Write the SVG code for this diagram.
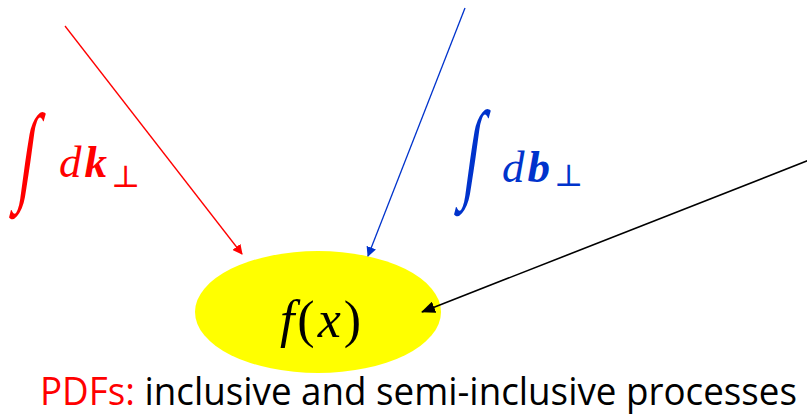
<svg xmlns="http://www.w3.org/2000/svg" width="807" height="418" viewBox="0 0 807 418">
<style>
.m{font-family:"Liberation Serif","DejaVu Serif",serif;}
.i{font-style:italic;}
.b{font-weight:bold;}
.cap{font-family:"Open Sans","Noto Sans","Liberation Sans",sans-serif;font-size:39px;}
</style>
<defs>
<marker id="ar" markerWidth="10" markerHeight="10" refX="9" refY="5" orient="auto" markerUnits="userSpaceOnUse" viewBox="0 0 10 10"><path d="M0,0 L10,5 L0,10 z" fill="#ff0000"/></marker>
<marker id="ab" markerWidth="10" markerHeight="10" refX="9" refY="5" orient="auto" markerUnits="userSpaceOnUse" viewBox="0 0 10 10"><path d="M0,0 L10,5 L0,10 z" fill="#0033cc"/></marker>
<marker id="ak" markerWidth="14" markerHeight="12" refX="13" refY="6" orient="auto" markerUnits="userSpaceOnUse" viewBox="0 0 14 12"><path d="M0,0 L14,6 L0,12 z" fill="#000"/></marker>
</defs>
<rect width="807" height="418" fill="#fff"/>
<g id="node-f">
<ellipse cx="318" cy="312" rx="123" ry="61" fill="#ffff00"/>
<text class="m" x="322" y="337" font-size="52" text-anchor="middle" letter-spacing="3"><tspan class="i">f</tspan>(<tspan class="i">x</tspan>)</text>
</g>
<g id="connectors">
<line x1="65" y1="26" x2="242" y2="254" stroke="#ff0000" stroke-width="1.3" marker-end="url(#ar)"/>
<line x1="465" y1="8" x2="368" y2="256" stroke="#0033cc" stroke-width="1.3" marker-end="url(#ab)"/>
<line x1="812" y1="159" x2="422" y2="312" stroke="#000" stroke-width="1.6" marker-end="url(#ak)"/>
</g>
<g id="label-k" fill="#ff0000">
<text class="m" font-size="78" transform="translate(16,190) skewX(-8) scale(0.75,1.4)">∫</text>
<text class="m" x="59" y="177" font-size="45"><tspan class="i">d</tspan><tspan class="i b" dx="3">k</tspan><tspan font-size="31" dy="10" dx="4">⊥</tspan></text>
</g>
<g id="label-b" fill="#0033cc">
<text class="m" font-size="78" transform="translate(461,187) skewX(-8) scale(0.75,1.4)">∫</text>
<text class="m" x="502" y="182" font-size="45"><tspan class="i">d</tspan><tspan class="i b" dx="3">b</tspan><tspan font-size="31" dy="4" dx="4">⊥</tspan></text>
</g>
<g id="caption">
<text class="cap" transform="translate(40,405) scale(0.74,1)" textLength="1023" lengthAdjust="spacingAndGlyphs"><tspan fill="#ff0000">PDFs:</tspan> inclusive and semi-inclusive processes</text>
</g>
</svg>
